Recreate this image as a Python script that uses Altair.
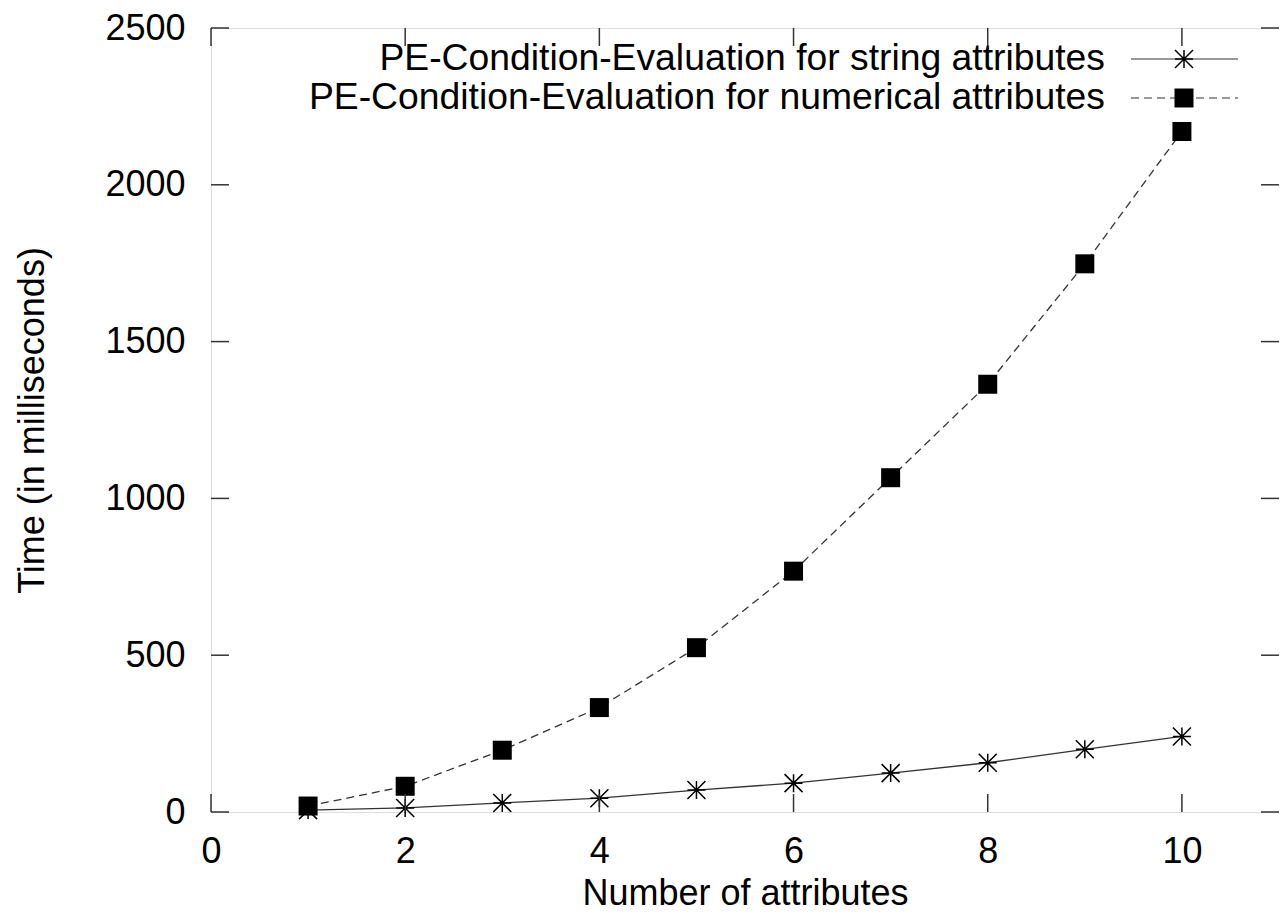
import altair as alt
import pandas as pd

attributes = [1, 2, 3, 4, 5, 6, 7, 8, 9, 10]
string_ms = [6, 13, 29, 44, 70, 92, 124, 157, 200, 241]
numerical_ms = [19, 82, 197, 333, 524, 768, 1066, 1364, 1748, 2170]
x_ticks = [0, 2, 4, 6, 8, 10]
y_ticks = [0, 500, 1000, 1500, 2000, 2500]
legend_labels = [
    "PE-Condition-Evaluation for string attributes",
    "PE-Condition-Evaluation for numerical attributes",
]

W, H = 1068, 784
FONT = "Liberation Sans"
FS = 36
LFS = 37.3
TICK = 18
STAR = "M0,-1L0,1M-1,0L1,0M-1,-1L1,1M-1,1L1,-1"

df_s = pd.DataFrame({"n": attributes, "t": string_ms})
df_n = pd.DataFrame({"n": attributes, "t": numerical_ms})
df_xt = pd.DataFrame({"v": x_ticks})
df_yt = pd.DataFrame({"v": y_ticks})

xs = alt.Scale(domain=[0, 11], nice=False, zero=False)
ys = alt.Scale(domain=[0, 2500], nice=False)

xaxis = alt.Axis(values=x_ticks, title="Number of attributes", grid=False, domain=False,
                 ticks=False, tickSize=0, labelFont=FONT, labelFontSize=FS, labelColor="black",
                 labelPadding=22, titleFont=FONT, titleFontSize=FS, titleFontWeight="normal",
                 titleColor="black", titlePadding=7, labelFlush=False, format="d")
yaxis = alt.Axis(values=y_ticks, title="Time (in milliseconds)", grid=False, domain=False,
                 ticks=False, tickSize=0, labelFont=FONT, labelFontSize=FS, labelColor="black",
                 labelPadding=26, titleFont=FONT, titleFontSize=FS, titleFontWeight="normal",
                 titleColor="black", titlePadding=53, labelFlush=False, format="d")

X = alt.X("n:Q", scale=xs, axis=xaxis)
Y = alt.Y("t:Q", scale=ys, axis=yaxis)

line_s = alt.Chart(df_s).mark_line(color="#333", strokeWidth=1.3).encode(x=X, y=Y)
line_n = alt.Chart(df_n).mark_line(color="#333", strokeWidth=1.3, strokeDash=[8, 5]).encode(x=X, y=Y)
pts_s = alt.Chart(df_s).mark_point(shape=STAR, size=324, filled=False, color="black",
                                   strokeWidth=1.5, opacity=1).encode(x=X, y=Y)
pts_n = alt.Chart(df_n).mark_point(shape="square", size=361, filled=True, color="black",
                                   opacity=1).encode(x=X, y=Y)

tick_style = dict(color="#333", strokeWidth=1.5)
XT = alt.X("v:Q", scale=xs, axis=xaxis)
YT = alt.Y("v:Q", scale=ys, axis=yaxis)
xt_bot = alt.Chart(df_xt).mark_rule(**tick_style).encode(x=XT, y=alt.value(H), y2=alt.value(H - TICK))
xt_top = alt.Chart(df_xt).mark_rule(**tick_style).encode(x=XT, y=alt.value(0), y2=alt.value(TICK))
yt_left = alt.Chart(df_yt).mark_rule(**tick_style).encode(y=YT, x=alt.value(0), x2=alt.value(TICK))
yt_right = alt.Chart(df_yt).mark_rule(**tick_style).encode(y=YT, x=alt.value(W), x2=alt.value(W - TICK))

# legend (top right, gnuplot style)
LX_TEXT, LX1, LX2, LXS = 894, 920, 1027, 973
LY = [31, 70]
leg_layers = []
for i, lab in enumerate(legend_labels):
    d = pd.DataFrame({"label": [lab]})
    leg_layers.append(
        alt.Chart(d).mark_text(align="right", baseline="middle", font=FONT, fontSize=LFS,
                               color="black").encode(text="label:N", x=alt.value(LX_TEXT),
                                                     y=alt.value(LY[i]))
    )
    rule_kw = dict(color="#999", strokeWidth=2)
    if i == 1:
        rule_kw["strokeDash"] = [8, 5]
    leg_layers.append(
        alt.Chart(d).mark_rule(**rule_kw).encode(x=alt.value(LX1), x2=alt.value(LX2),
                                                 y=alt.value(LY[i]))
    )
    if i == 0:
        leg_layers.append(
            alt.Chart(d).mark_point(shape=STAR, size=324, filled=False, color="black",
                                    strokeWidth=1.5, opacity=1).encode(x=alt.value(LXS),
                                                                       y=alt.value(LY[i]))
        )
    else:
        leg_layers.append(
            alt.Chart(d).mark_point(shape="square", size=361, filled=True, color="black",
                                    opacity=1).encode(x=alt.value(LXS), y=alt.value(LY[i]))
        )

chart = alt.layer(
    line_s, line_n, pts_s, pts_n, xt_bot, xt_top, yt_left, yt_right, *leg_layers
).properties(
    width=W, height=H,
    padding={"left": 203, "top": 20, "right": 0, "bottom": 99},
    autosize=alt.AutoSizeParams(type="none"),
).configure_view(stroke="#333", strokeWidth=1.5).configure(background="white")

chart.save("out.html", embed_options={"renderer": "svg", "actions": False})
